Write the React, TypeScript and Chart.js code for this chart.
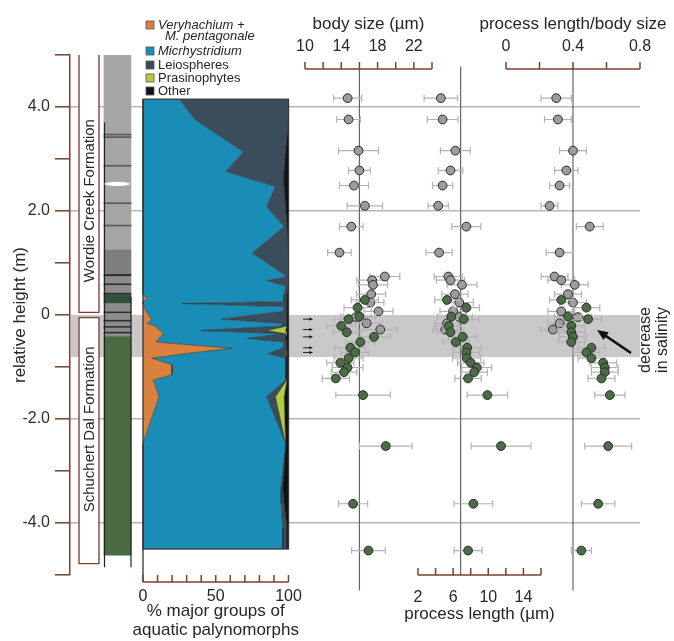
import React, { useEffect, useRef } from 'react';
import { Chart, registerables } from 'chart.js';

Chart.register(...registerables);

// ---------------- data ----------------
const HEIGHT_TICKS = [-5, -4, -3, -2, -1, 0, 1, 2, 3, 4, 5];
const GRID_HEIGHTS = [-4, -2, 2, 4];
const SALINITY_BAND = [0, -0.81];

const FORMATIONS = ['Wordie Creek Formation', 'Schuchert Dal Formation'];
const FORMATION_TOP = [5.06, -0.04];
const FORMATION_BASE = [0.04, -4.79];
const FORMATION_LABEL_AT = [2.2, -2.2];

const LITH_TOP = [5.0, 3.48, 3.43, 2.88, 2.16, 1.73, 1.25, 0.78, 0.74, 0.6, 0.57, 0.42, 0.4, 0.22, 0.06, 0.03, -0.1, -0.13, -0.22, -0.25, -0.33, -0.36, -0.42];
const LITH_BASE = [1.25, 3.46, 3.41, 2.86, 2.14, 1.71, 0.78, 0.74, 0.6, 0.57, 0.42, 0.4, 0.22, 0.06, 0.03, -0.1, -0.13, -0.22, -0.25, -0.33, -0.36, -0.42, -4.62];
const LITH_KIND = ['light', 'line', 'line', 'line', 'line', 'line', 'mid', 'dark', 'band', 'dark', 'band', 'dark', 'dkgreen', 'band', 'dark', 'band', 'dark', 'band', 'dark', 'band', 'dark', 'band', 'green'];
const NODULE_AT = 2.52;

const AREA_H = [4.15, 3.75, 3.14, 2.76, 2.47, 2.08, 1.7, 1.19, 0.74, 0.66, 0.56, 0.4, 0.3, 0.26, 0.22, 0.16, 0.07, -0.08, -0.16, -0.21, -0.3, -0.36, -0.45, -0.52, -0.64, -0.74, -0.83, -0.96, -1.15, -1.25, -1.57, -2.47, -3.0, -3.3, -3.63, -4.1, -4.5];
const VERYHACHIUM = [0, 0, 0, 0, 0, 0, 0, 0, 0, 0, 0, 0, 3, 0, 0, 1, 2, 6, 3, 8, 12, 14, 11, 9, 61, 30, 6, 20, 20, 7, 11, 0, 0, 0, 0, 0, 0];
const MICRHYSTRIDIUM = [25, 36, 69, 57, 91, 85, 97, 75, 99, 85, 98, 97, 94, 97, 27, 96, 94, 48, 93, 88, 28, 82, 61, 88, 35, 56, 92, 78, 78, 91, 74, 98, 96, 95, 95, 96, 96];
const LEIOSPHERES = [75, 64, 29, 40, 6, 13, 2, 25, 1, 15, 2, 2, 2, 2, 72, 2, 3, 45, 3, 3, 45, 2, 26, 2, 3, 12, 1, 1, 1, 1, 6, 0, 1, 1, 2, 3, 3];
const PRASINOPHYTES = [0, 0, 0, 0, 0, 0, 0, 0, 0, 0, 0, 0, 0, 0, 0, 0, 0, 0, 0, 0, 13, 1, 0, 0, 0, 1, 0, 0, 0, 0, 6, 0, 0, 0, 0, 0, 0];
const OTHER = [0, 0, 2, 3, 3, 2, 1, 0, 0, 0, 0, 1, 1, 1, 1, 1, 1, 1, 1, 1, 2, 1, 2, 1, 1, 1, 1, 1, 1, 1, 3, 2, 3, 4, 3, 1, 1];

const SAMPLE_H = [4.17, 3.76, 3.16, 2.78, 2.49, 2.1, 1.7, 1.2, 0.74, 0.67, 0.58, 0.4, 0.29, 0.24, 0.14, 0.07, -0.03, -0.04, -0.08, -0.16, -0.21, -0.28, -0.33, -0.42, -0.52, -0.63, -0.72, -0.83, -0.92, -1.01, -1.1, -1.22, -1.54, -2.52, -3.63, -4.53];
const SAMPLE_UNIT = ['W', 'W', 'W', 'W', 'W', 'W', 'W', 'W', 'W', 'W', 'W', 'W', 'S', 'W', 'S', 'W', 'S', 'W', 'S', 'W', 'S', 'W', 'S', 'S', 'S', 'S', 'S', 'S', 'S', 'S', 'S', 'S', 'S', 'S', 'S', 'S'];
const BODY_SIZE = [14.7, 14.8, 15.9, 16.0, 15.4, 16.6, 15.1, 13.8, 18.8, 17.4, 17.5, 17.3, 16.6, 17.2, 15.8, 18.1, 16.0, 15.6, 14.8, 16.8, 14.0, 18.3, 14.6, 17.6, 16.1, 15.0, 15.5, 14.8, 13.9, 14.7, 14.3, 13.4, 16.4, 18.9, 15.3, 17.0];
const BODY_ERR = [1.55, 1.3, 2.2, 1.2, 1.6, 1.95, 1.3, 1.3, 1.65, 1.7, 1.6, 1.6, 1.5, 1.5, 1.5, 1.6, 1.8, 1.7, 1.6, 1.7, 1.6, 1.9, 1.5, 1.8, 1.6, 1.7, 1.5, 1.6, 1.5, 1.7, 1.4, 1.5, 3.0, 2.9, 1.6, 1.85];
const PROCESS_LENGTH = [4.6, 4.8, 6.25, 5.7, 4.8, 4.3, 7.5, 4.4, 5.45, 5.7, 7.0, 6.2, 5.3, 6.7, 7.5, 6.0, 5.8, 6.7, 7.2, 5.3, 5.5, 5.1, 5.7, 7.1, 6.3, 7.6, 7.5, 7.55, 8.0, 8.7, 8.4, 7.7, 9.9, 11.45, 8.3, 7.7];
const PROCESS_ERR = [1.9, 1.75, 1.7, 1.4, 1.15, 1.15, 1.65, 1.5, 1.6, 1.6, 1.7, 1.5, 1.4, 1.6, 1.5, 1.5, 1.6, 1.5, 1.7, 1.4, 1.5, 1.4, 1.5, 1.6, 1.5, 1.6, 1.5, 1.6, 1.5, 1.7, 1.5, 1.5, 2.3, 3.4, 2.2, 1.6];
const RATIO = [0.3, 0.31, 0.4, 0.36, 0.32, 0.26, 0.5, 0.32, 0.29, 0.33, 0.41, 0.37, 0.33, 0.4, 0.48, 0.33, 0.37, 0.43, 0.49, 0.32, 0.39, 0.28, 0.39, 0.4, 0.39, 0.51, 0.48, 0.51, 0.58, 0.59, 0.59, 0.57, 0.62, 0.61, 0.55, 0.45];
const RATIO_ERR = [0.09, 0.08, 0.08, 0.07, 0.06, 0.05, 0.08, 0.08, 0.08, 0.08, 0.08, 0.08, 0.07, 0.08, 0.08, 0.08, 0.08, 0.08, 0.08, 0.07, 0.08, 0.07, 0.08, 0.08, 0.08, 0.08, 0.08, 0.08, 0.08, 0.08, 0.08, 0.08, 0.09, 0.14, 0.1, 0.06];
const ARROW_H = [-0.08, -0.28, -0.42, -0.63, -0.72];

const BODY_REF = 16;
const PROCESS_REF = 6.85;
const RATIO_REF = 0.4;

const PCT_TICKS = [0, 10, 20, 30, 40, 50, 60, 70, 80, 90, 100];
const PCT_LABELS = [0, 50, 100];
const BODY_TICKS = [10, 12, 14, 16, 18, 20, 22, 24];
const BODY_LABELS = [10, 14, 18, 22];
const PROCESS_TICKS = [2, 4, 6, 8, 10, 12, 14, 16];
const PROCESS_LABELS = [2, 6, 10, 14];
const RATIO_TICKS = [0, 0.2, 0.4, 0.6, 0.8];
const RATIO_LABELS = [0, 0.4, 0.8];

const LEGEND = [
  { lines: ['Veryhachium +', 'M. pentagonale'], italic: true },
  { lines: ['Micrhystridium'], italic: true },
  { lines: ['Leiospheres'], italic: false },
  { lines: ['Prasinophytes'], italic: false },
  { lines: ['Other'], italic: false },
];

// ---------------- layout & style ----------------
const W = 674;
const H = 641;
const AREA = { left: 70, right: 640, top: 55, bottom: 575 };
const FONT = '"Liberation Sans", Arial, Helvetica, sans-serif';
const BROWN = '#7d3f30';
const TEXT = '#262626';
const GROUP_COLORS = ['#d9813d', '#1a8db6', '#3b4c5d', '#b3cc3b', '#111111'];
const LITH_COLORS: Record<string, string> = {
  light: '#a6a6a6', mid: '#7e7e7e', line: '#5c5c5c', dark: '#2c2c2c', band: '#8c8c8c', dkgreen: '#35503a', green: '#4b6a44',
};
const GREY_PT = '#9c9c9c';
const GREEN_PT = '#4b6d45';

// pixel anchors for the panel scales: [value0, px0, value1, px1]
const PCT_ANCHOR = [0, 143, 100, 288.5];
const BODY_ANCHOR = [10, 305, 24, 432];
const PROCESS_ANCHOR = [2, 418, 16, 541];
const RATIO_ANCHOR = [0, 506, 0.8, 640];
const LITH_X = 47.5; // column centre, offset from plot left
const FORMATION_X = 19;

function spanFor(a: number[]) {
  const [v0, p0, v1, p1] = a;
  const b = (p1 - p0) / (v1 - v0);
  return { min: v0 + (AREA.left - p0) / b, max: v0 + (AREA.right - p0) / b };
}

function cumulative(k: number) {
  const groups = [VERYHACHIUM, MICRHYSTRIDIUM, LEIOSPHERES, PRASINOPHYTES, OTHER];
  return AREA_H.map((h, i) => {
    let s = 0;
    for (let j = 0; j <= k; j++) s += groups[j][i];
    return { x: s, y: h };
  });
}

function points(vals: number[], errs: number[], unit: string) {
  return SAMPLE_H.map((h, i) => ({ x: vals[i], y: h, e: errs[i], u: SAMPLE_UNIT[i] })).filter((p) => p.u === unit);
}

function drawHAxis(ctx: CanvasRenderingContext2D, scale: any, ticks: number[], labels: number[], lineY: number, labelY: number, titles: string[], titleYs: number[], fmt: (v: number) => string) {
  const x0 = scale.getPixelForValue(ticks[0]);
  const x1 = scale.getPixelForValue(ticks[ticks.length - 1]);
  ctx.save();
  ctx.strokeStyle = BROWN;
  ctx.lineWidth = 1.5;
  ctx.beginPath();
  ctx.moveTo(x0, lineY);
  ctx.lineTo(x1, lineY);
  ticks.forEach((v) => {
    const x = scale.getPixelForValue(v);
    ctx.moveTo(x, lineY);
    ctx.lineTo(x, lineY - 7);
  });
  ctx.stroke();
  ctx.fillStyle = TEXT;
  ctx.textAlign = 'center';
  ctx.textBaseline = 'middle';
  ctx.font = `16px ${FONT}`;
  labels.forEach((v) => ctx.fillText(fmt(v), scale.getPixelForValue(v), labelY));
  ctx.font = `17px ${FONT}`;
  titles.forEach((t, i) => ctx.fillText(t, (x0 + x1) / 2, titleYs[i]));
  ctx.restore();
}

function arrow(ctx: CanvasRenderingContext2D, x1: number, y1: number, x2: number, y2: number, head: number, width: number) {
  const ang = Math.atan2(y2 - y1, x2 - x1);
  ctx.lineWidth = width;
  ctx.beginPath();
  ctx.moveTo(x1, y1);
  ctx.lineTo(x2 - Math.cos(ang) * head * 0.8, y2 - Math.sin(ang) * head * 0.8);
  ctx.stroke();
  ctx.beginPath();
  ctx.moveTo(x2, y2);
  ctx.lineTo(x2 - head * Math.cos(ang - 0.4), y2 - head * Math.sin(ang - 0.4));
  ctx.lineTo(x2 - head * Math.cos(ang + 0.4), y2 - head * Math.sin(ang + 0.4));
  ctx.closePath();
  ctx.fill();
}

const decoPlugin = {
  id: 'deco',
  beforeDatasetsDraw(chart: any) {
    const { ctx, chartArea: a, scales } = chart;
    const y = scales.y;
    const t = y.getPixelForValue(SALINITY_BAND[0]);
    const b = y.getPixelForValue(SALINITY_BAND[1]);
    ctx.save();
    ctx.fillStyle = '#c9c9c9';
    ctx.fillRect(a.left + 1, t, a.right - a.left - 1, b - t);
    ctx.restore();
  },
  beforeDatasetDraw(chart: any, args: any) {
    const ds = chart.data.datasets[args.index];
    if (!ds.errorBars) return;
    const { ctx } = chart;
    const xs = chart.scales[ds.xAxisID];
    const y = chart.scales.y;
    ctx.save();
    ctx.strokeStyle = '#b3b3b3';
    ctx.lineWidth = 1.2;
    ds.data.forEach((p: any) => {
      const py = y.getPixelForValue(p.y);
      const x1 = xs.getPixelForValue(p.x - p.e);
      const x2 = xs.getPixelForValue(p.x + p.e);
      ctx.beginPath();
      ctx.moveTo(x1, py);
      ctx.lineTo(x2, py);
      ctx.moveTo(x1, py - 3.5);
      ctx.lineTo(x1, py + 3.5);
      ctx.moveTo(x2, py - 3.5);
      ctx.lineTo(x2, py + 3.5);
      ctx.stroke();
    });
    ctx.restore();
  },
  afterDatasetsDraw(chart: any) {
    const { ctx, scales } = chart;
    const y = scales.y;
    const xp = scales.xPct;
    const xl = scales.xLay;

    // area chart frame + left spine down to its axis
    const top = y.getPixelForValue(AREA_H[0]);
    const bot = y.getPixelForValue(AREA_H[AREA_H.length - 1]);
    const l = xp.getPixelForValue(0);
    const r = xp.getPixelForValue(100);
    ctx.save();
    ctx.strokeStyle = '#333';
    ctx.lineWidth = 1.3;
    ctx.strokeRect(l, top, r - l, bot - top);
    ctx.beginPath();
    ctx.moveTo(l, bot);
    ctx.lineTo(l, 582);
    ctx.stroke();
    ctx.restore();

    drawHAxis(ctx, xp, PCT_TICKS, PCT_LABELS, 582, 597, ['% major groups of', 'aquatic palynomorphs'], [611, 630], (v) => String(v));
    drawHAxis(ctx, scales.xBody, BODY_TICKS, BODY_LABELS, 69, 47, ['body size (\u00b5m)'], [24], (v) => String(v));
    drawHAxis(ctx, scales.xRatio, RATIO_TICKS, RATIO_LABELS, 69, 47, ['process length/body size'], [24], (v) => String(v));
    drawHAxis(ctx, scales.xProc, PROCESS_TICKS, PROCESS_LABELS, 575, 598, ['process length (\u00b5m)'], [614], (v) => String(v));

    // legend
    ctx.save();
    const lx = l + 3;
    const rows = [[25, 36], [51], [65], [78], [91]];
    LEGEND.forEach((item, i) => {
      const ys = rows[i];
      ctx.fillStyle = GROUP_COLORS[i];
      ctx.fillRect(lx, ys[0] - 4, 8, 8);
      ctx.strokeStyle = '#555';
      ctx.lineWidth = 0.8;
      ctx.strokeRect(lx, ys[0] - 4, 8, 8);
      ctx.fillStyle = TEXT;
      ctx.textAlign = 'left';
      ctx.textBaseline = 'middle';
      ctx.font = `${item.italic ? 'italic ' : ''}13px ${FONT}`;
      item.lines.forEach((t, j) => ctx.fillText(t, lx + (j === 0 ? 12 : 19), ys[j]));
    });
    ctx.restore();

    // formation labels
    ctx.save();
    ctx.fillStyle = TEXT;
    ctx.font = `15px ${FONT}`;
    ctx.textAlign = 'center';
    ctx.textBaseline = 'middle';
    FORMATIONS.forEach((f, i) => {
      ctx.save();
      ctx.translate(xl.getPixelForValue(FORMATION_X), y.getPixelForValue(FORMATION_LABEL_AT[i]));
      ctx.rotate(-Math.PI / 2);
      ctx.fillText(f, 0, 1);
      ctx.restore();
    });
    ctx.restore();

    // lithology details
    const cx = xl.getPixelForValue(LITH_X);
    ctx.save();
    ctx.strokeStyle = '#222';
    ctx.lineWidth = 1.2;
    ctx.beginPath();
    ctx.moveTo(cx - 13, y.getPixelForValue(3.7));
    ctx.lineTo(cx - 13, y.getPixelForValue(-4.85));
    ctx.moveTo(cx + 13.5, y.getPixelForValue(0.35));
    ctx.lineTo(cx + 13.5, y.getPixelForValue(-4.85));
    ctx.stroke();
    ctx.fillStyle = '#fff';
    ctx.strokeStyle = '#999';
    ctx.lineWidth = 0.8;
    ctx.beginPath();
    ctx.ellipse(cx, y.getPixelForValue(NODULE_AT), 13, 2.6, 0, 0, Math.PI * 2);
    ctx.fill();
    ctx.stroke();
    ctx.restore();

    // small sample arrows in the band
    ctx.save();
    ctx.strokeStyle = '#111';
    ctx.fillStyle = '#111';
    ARROW_H.forEach((h) => {
      const py = y.getPixelForValue(h);
      arrow(ctx, 303, py, 313, py, 4, 0.9);
    });
    // salinity arrow
    arrow(ctx, 631, 353, 597, 330, 12, 2.6);
    ctx.restore();

    ctx.save();
    ctx.fillStyle = TEXT;
    ctx.font = `16px ${FONT}`;
    ctx.textAlign = 'center';
    ctx.textBaseline = 'middle';
    ctx.translate(646, 340);
    ctx.rotate(-Math.PI / 2);
    ctx.fillText('decrease', 0, 0);
    ctx.fillText('in salinity', 0, 17);
    ctx.restore();
  },
};

function buildConfig(): any {
  const areaSets = GROUP_COLORS.map((c, k) => ({
    type: 'line',
    indexAxis: 'y',
    xAxisID: 'xPct',
    yAxisID: 'y',
    data: cumulative(k),
    fill: k === 0 ? 'origin' : '-1',
    backgroundColor: c,
    borderColor: 'rgba(35,35,35,0.75)',
    borderWidth: 0.7,
    pointRadius: 0,
    tension: 0,
    order: 6,
  }));
  const refLine = (axis: string, v: number, y0: number, y1: number) => ({
    type: 'line',
    xAxisID: axis,
    yAxisID: 'y',
    data: [{ x: v, y: y0 }, { x: v, y: y1 }],
    borderColor: '#666',
    borderWidth: 1.2,
    pointRadius: 0,
    clip: false,
    order: 4,
  });
  const scatter = (axis: string, vals: number[], errs: number[], unit: string) => ({
    type: 'scatter',
    xAxisID: axis,
    yAxisID: 'y',
    data: points(vals, errs, unit),
    errorBars: true,
    pointRadius: 4.4,
    pointBackgroundColor: unit === 'W' ? GREY_PT : GREEN_PT,
    pointBorderColor: '#2a2a2a',
    pointBorderWidth: 1,
    order: unit === 'W' ? 2 : 1,
  });
  const lith = {
    type: 'bar',
    xAxisID: 'xLay',
    yAxisID: 'y',
    data: LITH_TOP.map((t, i) => ({ x: LITH_X, y: [LITH_BASE[i], t] })),
    backgroundColor: LITH_KIND.map((k) => LITH_COLORS[k]),
    borderWidth: 0,
    barThickness: 27,
    grouped: false,
    order: 10,
  };
  const formation = {
    type: 'bar',
    xAxisID: 'xLay',
    yAxisID: 'y',
    data: FORMATION_TOP.map((t, i) => ({ x: FORMATION_X, y: [FORMATION_BASE[i], t] })),
    backgroundColor: '#ffffff',
    borderColor: BROWN,
    borderWidth: 1.5,
    borderSkipped: false,
    barThickness: 21,
    grouped: false,
    order: 10,
  };
  const hidden = (a: number[]) => ({ type: 'linear', display: false, offset: false, ...spanFor(a) });

  return {
    type: 'scatter',
    data: {
      datasets: [
        ...areaSets,
        scatter('xBody', BODY_SIZE, BODY_ERR, 'W'),
        scatter('xBody', BODY_SIZE, BODY_ERR, 'S'),
        scatter('xProc', PROCESS_LENGTH, PROCESS_ERR, 'W'),
        scatter('xProc', PROCESS_LENGTH, PROCESS_ERR, 'S'),
        scatter('xRatio', RATIO, RATIO_ERR, 'W'),
        scatter('xRatio', RATIO, RATIO_ERR, 'S'),
        refLine('xBody', BODY_REF, 4.75, -5.3),
        refLine('xProc', PROCESS_REF, 4.78, -5.0),
        refLine('xRatio', RATIO_REF, 4.75, -5.3),
        lith,
        formation,
      ],
    },
    options: {
      animation: false,
      responsive: false,
      events: [],
      layout: { padding: { left: 0, right: W - AREA.right, top: AREA.top, bottom: H - AREA.bottom } },
      plugins: { legend: { display: false }, tooltip: { enabled: false } },
      scales: {
        y: {
          type: 'linear',
          position: 'left',
          min: -5,
          max: 5,
          offset: false,
          afterBuildTicks: (s: any) => {
            s.ticks = HEIGHT_TICKS.map((v) => ({ value: v }));
          },
          afterFit: (s: any) => {
            s.width = AREA.left;
          },
          ticks: {
            autoSkip: false,
            padding: 5,
            color: '#3a2a25',
            font: { size: 16, family: FONT },
            callback: (v: number) => (v % 2 === 0 ? (v === 0 ? '0' : v.toFixed(1)) : ''),
          },
          grid: {
            drawOnChartArea: true,
            color: (c: any) => (c.tick && GRID_HEIGHTS.includes(c.tick.value) ? '#b5b5b5' : 'rgba(0,0,0,0)'),
            lineWidth: 1.6,
            tickColor: BROWN,
            tickLength: 15,
            tickWidth: 1.5,
          },
          border: { color: BROWN, width: 1.5 },
          title: { display: true, text: 'relative height (m)', color: TEXT, font: { size: 17, family: FONT }, padding: { top: 10, bottom: 0 } },
        },
        xPct: hidden(PCT_ANCHOR),
        xBody: hidden(BODY_ANCHOR),
        xProc: hidden(PROCESS_ANCHOR),
        xRatio: hidden(RATIO_ANCHOR),
        xLay: { type: 'linear', display: false, offset: false, min: 0, max: AREA.right - AREA.left },
      },
    },
    plugins: [decoPlugin],
  };
}

export default function App() {
  const ref = useRef<HTMLCanvasElement>(null);
  useEffect(() => {
    if (!ref.current) return;
    const chart = new Chart(ref.current, buildConfig());
    return () => chart.destroy();
  }, []);
  return (
    <div style={{ position: 'absolute', left: 0, top: 0, width: W, height: H, background: '#fff' }}>
      <canvas ref={ref} width={W} height={H} style={{ width: W, height: H, display: 'block' }} />
    </div>
  );
}
